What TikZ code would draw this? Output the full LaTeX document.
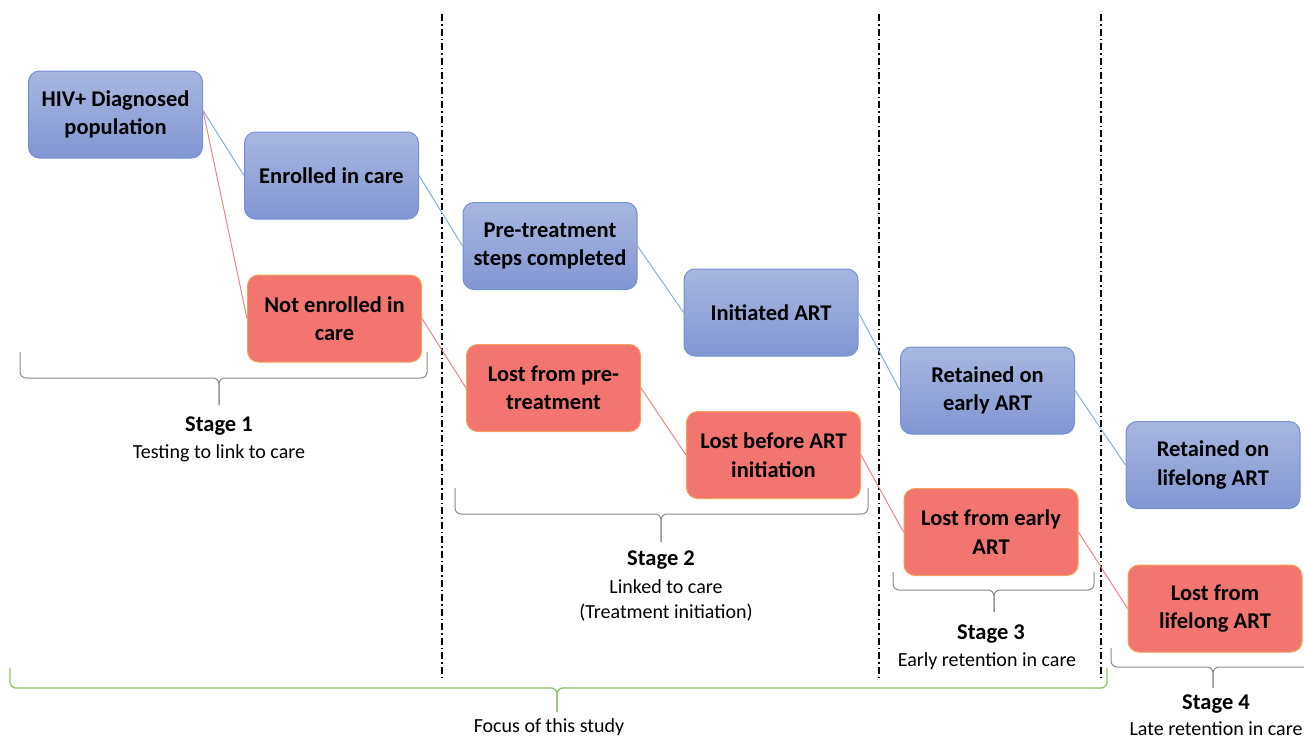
\documentclass[tikz,border=0pt]{standalone}
\usepackage{fontspec}
\setmainfont{Carlito}
\definecolor{btop}{HTML}{A8B6E0}
\definecolor{bbot}{HTML}{8296D3}
\definecolor{bdraw}{HTML}{7390D2}
\definecolor{rfill}{HTML}{F3756F}
\definecolor{rdraw}{HTML}{F5A15A}
\definecolor{bline}{HTML}{80B2E2}
\definecolor{rline}{HTML}{F08585}
\definecolor{gbr}{HTML}{8DC46B}
\definecolor{graybr}{HTML}{8A8A8A}
\begin{document}
\begin{tikzpicture}[x=1pt,y=-1pt,
  box/.style={rounded corners=11pt, minimum width=174pt, minimum height=87pt, align=center,
    font=\fontsize{22.5}{28.5}\selectfont\bfseries, line width=1pt, inner sep=2pt},
  bluebox/.style={box, top color=btop, bottom color=bbot, draw=bdraw},
  redbox/.style={box, fill=rfill, draw=rdraw},
  bconn/.style={draw=bline, line width=1pt},
  rconn/.style={draw=rline, line width=1pt},
  divider/.style={line width=1.6pt, dash pattern=on 7pt off 3pt on 1.5pt off 3pt},
  brace/.style={draw=graybr, line width=1pt, rounded corners=6pt},
  gbrace/.style={draw=gbr, line width=1.3pt, rounded corners=6pt},
  stagetitle/.style={font=\fontsize{22.5}{26}\selectfont\bfseries},
  stagesub/.style={font=\fontsize{20}{25}\selectfont, align=center}
]
\useasboundingbox (0,0) rectangle (1304,739);

% dividers
\coordinate (d1t) at (442,14); \coordinate (d1b) at (442,680);
\coordinate (d2t) at (879,14); \coordinate (d2b) at (879,680);
\coordinate (d3t) at (1101,14); \coordinate (d3b) at (1101,680);
\draw[divider] (d1t) -- (d1b);
\draw[divider] (d2t) -- (d2b);
\draw[divider] (d3t) -- (d3b);

% boxes
\node[bluebox] (hiv) at (115.5,114.5) {HIV+ Diagnosed\\population};
\node[bluebox] (enr) at (331.5,175.5) {Enrolled in care};
\node[redbox]  (nenr) at (334.5,318.5) {Not enrolled in\\care};
\node[bluebox] (pre) at (550,246) {Pre-treatment\\steps completed};
\node[bluebox] (init) at (771,312.5) {Initiated ART};
\node[redbox]  (lpre) at (553.5,388) {Lost from pre-\\treatment};
\node[redbox]  (lbef) at (773.5,455) {Lost before ART\\initiation};
\node[bluebox] (rea) at (987.5,390.5) {Retained on\\early ART};
\node[redbox]  (lea) at (991,532) {Lost from early\\ART};
\node[bluebox] (rla) at (1213,465) {Retained on\\lifelong ART};
\node[redbox]  (lla) at (1215,608.5) {Lost from\\lifelong ART};

% connectors
\draw[bconn] ([yshift=4pt]hiv.east) -- (enr.west);
\draw[rconn] ([yshift=4pt]hiv.east) -- (nenr.west);
\draw[bconn] (enr.east) -- (pre.west);
\draw[bconn] (pre.east) -- (init.west);
\draw[rconn] (nenr.east) -- (lpre.west);
\draw[rconn] (lpre.east) -- (lbef.west);
\draw[bconn] (init.east) -- (rea.west);
\draw[rconn] (lbef.east) -- (lea.west);
\draw[bconn] (rea.east) -- (rla.west);
\draw[rconn] (lea.east) -- (lla.west);

% braces
\draw[brace] (20,352) -- (20,378) -- (219,378) -- (219,405);
\draw[brace] (427,352) -- (427,378) -- (219,378) -- (219,405);
\draw[brace] (455,488) -- (455,514) -- (661,514) -- (661,542);
\draw[brace] (868,488) -- (868,514) -- (661,514) -- (661,542);
\draw[brace] (893,572) -- (893,590) -- (994,590) -- (994,612);
\draw[brace] (1094,572) -- (1094,590) -- (994,590) -- (994,612);
\draw[brace] (1111,648) -- (1111,667) -- (1213,667) -- (1213,688);
\draw[brace] (1320,667) -- (1213,667) -- (1213,688);
\draw[gbrace] (10,668) -- (10,688) -- (557,688) -- (557,712);
\draw[gbrace] (1107,668) -- (1107,688) -- (557,688) -- (557,712);

% stage labels
\node[stagetitle] (s1) at (219,426) {Stage 1};
\node[stagesub] (s1s) at (219,453) {Testing to link to care};
\node[stagetitle] (s2) at (661,560) {Stage 2};
\node[stagesub] (s2s) at (666,600) {Linked to care\\(Treatment initiation)};
\node[stagetitle] (s3) at (991,634) {Stage 3};
\node[stagesub] (s3s) at (987,661) {Early retention in care};
\node[stagetitle] (s4) at (1216,704) {Stage 4};
\node[stagesub] (s4s) at (1216,729) {Late retention in care};
\node[stagesub] (focus) at (549,727) {Focus of this study};
\end{tikzpicture}
\end{document}
